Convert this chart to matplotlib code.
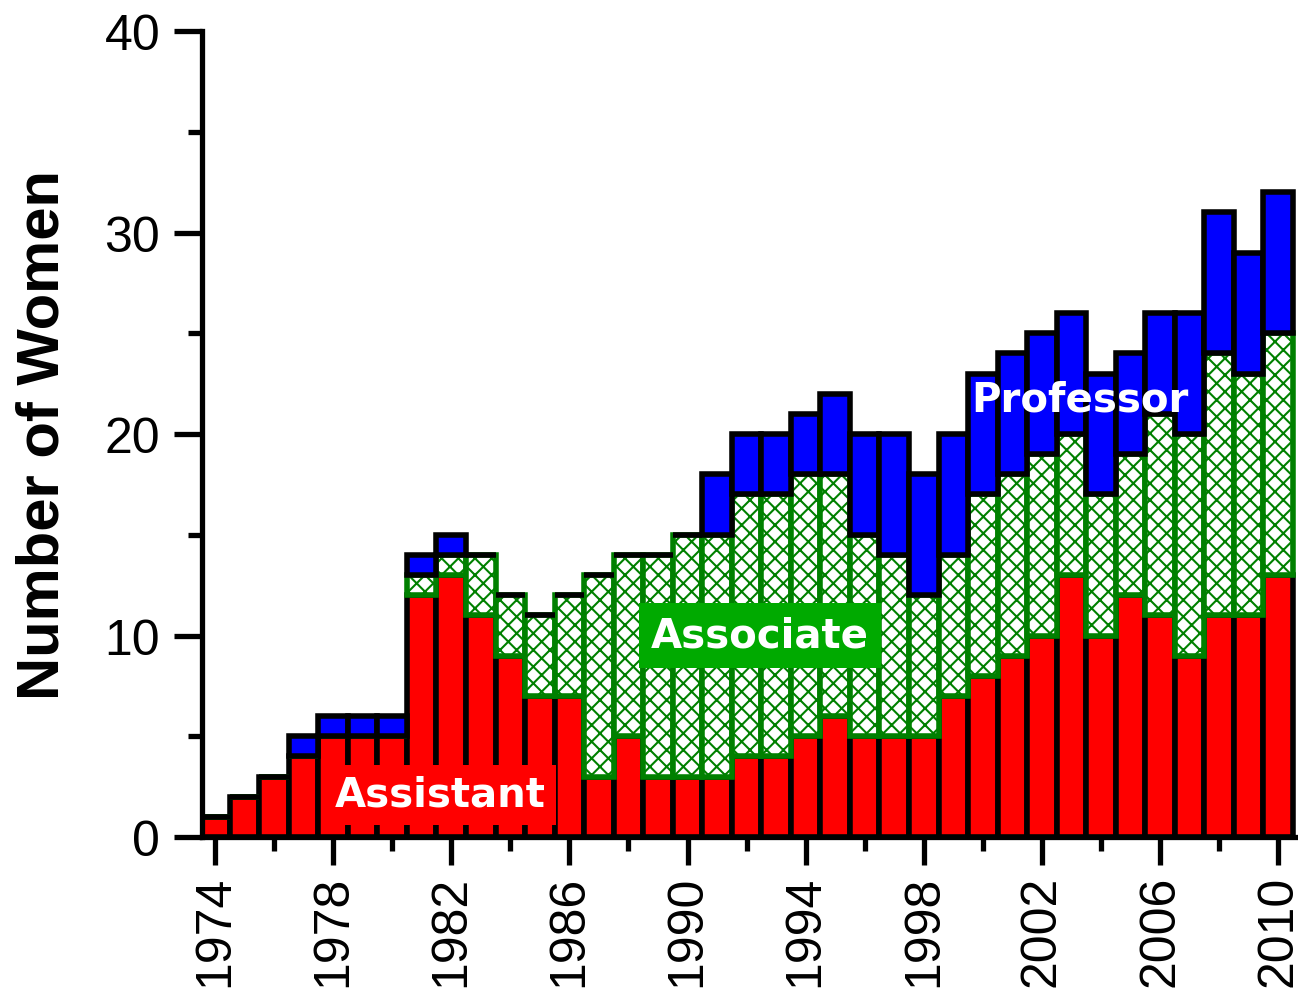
import matplotlib
matplotlib.use("Agg")
import matplotlib.pyplot as plt
from matplotlib.ticker import MultipleLocator

# ===============================
# DATA
# ===============================
years = list(range(1974, 2011))

assistant = [1, 2, 3, 4, 5, 5, 5, 12, 13, 11, 9, 7, 7, 3, 5, 3, 3, 3, 4,
             4, 5, 6, 5, 5, 5, 7, 8, 9, 10, 13, 10, 12, 11, 9, 11, 11, 13]
associate = [0, 0, 0, 0, 0, 0, 0, 1, 1, 3, 3, 4, 5, 10, 9, 11, 12, 12, 13,
             13, 13, 12, 10, 9, 7, 7, 9, 9, 9, 7, 7, 7, 10, 11, 13, 12, 12]
professor = [0, 0, 0, 1, 1, 1, 1, 1, 1, 0, 0, 0, 0, 0, 0, 0, 0, 3, 3,
             3, 3, 4, 5, 6, 6, 6, 6, 6, 6, 6, 6, 5, 5, 6, 7, 6, 7]

major_years = list(range(1974, 2011, 4))

# ===============================
# FIGURE
# ===============================
plt.rcParams['font.family'] = ['Liberation Sans', 'DejaVu Sans']
plt.rcParams['hatch.linewidth'] = 1.5

fig = plt.figure(figsize=(12.98, 9.95), dpi=100)
ax = fig.add_axes([0.1556, 0.1578, 0.8444, 0.81])

base2 = [a + b for a, b in zip(assistant, associate)]

ax.bar(years, assistant, width=1.0, color='#FF0000',
       edgecolor='black', linewidth=4.0)
ax.bar(years, associate, width=1.0, bottom=assistant, color='white',
       edgecolor='#008000', linewidth=4.0, hatch='xx')
ax.bar(years, professor, width=1.0, bottom=base2, color='#0000FF',
       edgecolor='black', linewidth=4.0)

label_font = ['DejaVu Sans']
ax.text(1981.62, 2.1, "Assistant", color='white', fontsize=29,
        fontweight='bold', family=label_font, ha='center', va='center',
        zorder=5,
        bbox=dict(boxstyle='square,pad=0.25', fc='#FF0000', ec='none'))
ax.text(1992.46, 10.0, "Associate", color='white', fontsize=29,
        fontweight='bold', family=label_font, ha='center', va='center',
        zorder=5,
        bbox=dict(boxstyle='square,pad=0.3', fc='#00AA00', ec='none'))
ax.text(2003.3, 21.7, "Professor", color='white', fontsize=29,
        fontweight='bold', family=label_font, ha='center', va='center',
        zorder=5)

# ===============================
# AXES
# ===============================
ax.set_xlim(1973.56, 2010.67)
ax.set_ylim(0, 40)

ax.spines['top'].set_visible(False)
ax.spines['right'].set_visible(False)
ax.spines['left'].set_linewidth(3.8)
ax.spines['bottom'].set_linewidth(3.8)

ax.set_xticks(major_years)
ax.set_xticklabels([str(y) for y in major_years], rotation=90)
ax.xaxis.set_minor_locator(MultipleLocator(2))
ax.yaxis.set_major_locator(MultipleLocator(10))
ax.yaxis.set_minor_locator(MultipleLocator(5))

ax.tick_params(which='major', direction='out', length=20, width=3.8,
               labelsize=36)
ax.tick_params(which='minor', direction='out', length=10, width=3.8)
ax.tick_params(axis='y', which='major', pad=10)
ax.tick_params(axis='x', which='major', pad=7)

ax.set_ylabel("Number of Women", fontsize=43, fontweight='bold', va='center')
ax.yaxis.set_label_coords(-0.145, 0.5)

fig.savefig("out.png", dpi=100)
